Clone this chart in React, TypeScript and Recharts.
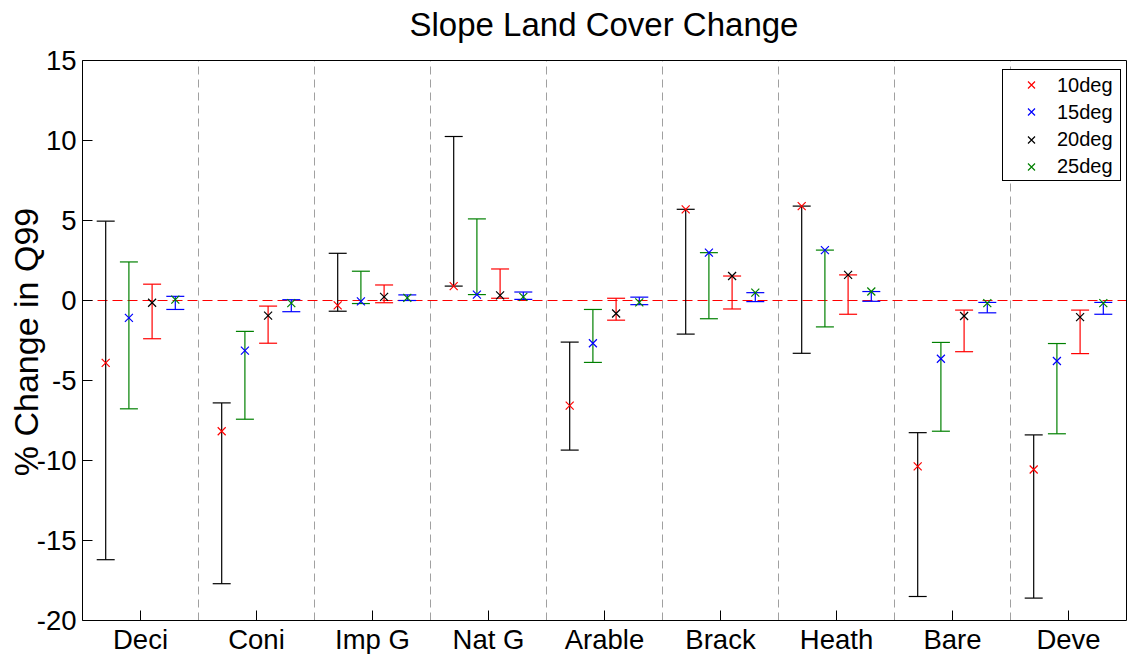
import {
  ComposedChart,
  ErrorBar,
  ReferenceLine,
  Scatter,
  XAxis,
  YAxis,
} from "recharts";

const categories = ["Deci", "Coni", "Imp G", "Nat G", "Arable", "Brack", "Heath", "Bare", "Deve"];
const yTicks = [-20, -15, -10, -5, 0, 5, 10, 15];

// point estimates per slope threshold
const deg10 = [-3.9, -8.17, -0.3, 0.9, -6.57, 5.7, 5.9, -10.37, -10.56];
const deg15 = [-1.09, -3.13, -0.05, 0.37, -2.67, 2.99, 3.15, -3.64, -3.78];
const deg20 = [-0.14, -0.95, 0.23, 0.32, -0.81, 1.53, 1.6, -0.97, -1.04];
const deg25 = [0.05, -0.16, 0.16, 0.23, -0.12, 0.49, 0.56, -0.16, -0.16];

// error bar ends (low / high)
const deg10Low = [-16.2, -17.7, -0.67, 0.9, -9.35, -2.1, -3.3, -18.5, -18.6];
const deg10High = [4.96, -6.4, 2.95, 10.25, -2.6, 5.7, 5.9, -8.26, -8.4];
const deg15Low = [-6.77, -7.42, -0.19, 0.37, -3.87, -1.14, -1.65, -8.17, -8.33];
const deg15High = [2.41, -1.93, 1.83, 5.1, -0.56, 2.99, 3.15, -2.62, -2.69];
const deg20Low = [-2.39, -2.67, -0.14, 0.14, -1.23, -0.53, -0.86, -3.2, -3.32];
const deg20High = [1.02, -0.35, 0.97, 1.97, 0.14, 1.53, 1.6, -0.6, -0.6];
const deg25Low = [-0.56, -0.7, 0, 0.07, -0.26, -0.07, -0.05, -0.77, -0.86];
const deg25High = [0.26, 0.05, 0.35, 0.53, 0.21, 0.49, 0.56, -0.12, -0.12];

const FONT = "'Liberation Sans', Arial, Helvetica, sans-serif";

const series = [
  { name: "10deg", vals: deg10, low: deg10Low, high: deg10High, color: "#ff0000", barColor: "#000000", offset: -0.3 },
  { name: "15deg", vals: deg15, low: deg15Low, high: deg15High, color: "#0000ff", barColor: "#008000", offset: -0.1 },
  { name: "20deg", vals: deg20, low: deg20Low, high: deg20High, color: "#000000", barColor: "#ff0000", offset: 0.1 },
  { name: "25deg", vals: deg25, low: deg25Low, high: deg25High, color: "#008000", barColor: "#0000ff", offset: 0.3 },
];

const buildRows = (s: (typeof series)[number]) =>
  categories.map((_, i) => ({
    x: i + 1 + s.offset,
    y: s.vals[i],
    err: [s.vals[i] - s.low[i], s.high[i] - s.vals[i]],
  }));

const separators = categories.slice(1).map((_, i) => i + 1.5);
const catTicks = categories.map((_, i) => i + 1);

function Cross({ cx, cy, color, r = 4 }: { cx: number; cy: number; color: string; r?: number }) {
  return (
    <path
      d={`M${cx - r},${cy - r}L${cx + r},${cy + r}M${cx - r},${cy + r}L${cx + r},${cy - r}`}
      stroke={color}
      strokeWidth={1.2}
      fill="none"
    />
  );
}

export default function App() {
  const tickStyle = { fontSize: 27.5, fill: "#000", fontFamily: FONT };
  return (
    <div style={{ position: "absolute", left: 0, top: 0, width: 1127, height: 654, background: "#fff", fontFamily: FONT }}>
      <div
        style={{
          position: "absolute",
          top: 8,
          left: 0,
          width: 1208,
          textAlign: "center",
          fontSize: 33,
          lineHeight: 1,
          color: "#000",
        }}
      >
        Slope Land Cover Change
      </div>
      <div
        style={{
          position: "absolute",
          left: 26,
          top: 342,
          transform: "translate(-50%, -50%) rotate(-90deg)",
          whiteSpace: "nowrap",
          fontSize: 34,
          lineHeight: 1,
          color: "#000",
        }}
      >
        % Change in Q99
      </div>
      <ComposedChart width={1127} height={654} margin={{ top: 59.5, right: -0.5, bottom: 0, left: 22.5 }}>
        <XAxis
          dataKey="x"
          type="number"
          domain={[0.5, 9.5]}
          ticks={catTicks}
          interval={0}
          allowDataOverflow
          tickFormatter={(v) => categories[Math.round(v) - 1] ?? ""}
          height={33.5}
          tickSize={-10}
          tickMargin={18.5}
          stroke="#000"
          tick={tickStyle}
        />
        <XAxis
          xAxisId="top"
          orientation="top"
          type="number"
          domain={[0.5, 9.5]}
          ticks={catTicks}
          allowDataOverflow
          height={1}
          tickSize={-10}
          tick={false}
          stroke="#000"
        />
        <YAxis
          dataKey="y"
          type="number"
          domain={[-20, 15]}
          ticks={yTicks}
          interval={0}
          allowDataOverflow
          width={60}
          tickSize={-10}
          tickMargin={16}
          stroke="#000"
          tick={tickStyle}
        />
        <YAxis
          yAxisId="right"
          orientation="right"
          type="number"
          domain={[-20, 15]}
          ticks={yTicks}
          allowDataOverflow
          width={1}
          tickSize={-10}
          tick={false}
          stroke="#000"
        />
        {separators.map((v) => (
          <ReferenceLine key={v} x={v} stroke="#a0a0a0" strokeDasharray="8 5" />
        ))}
        <ReferenceLine y={0} stroke="#ff0000" strokeDasharray="10 5" />
        {series.map((s) => (
          <Scatter
            key={s.name}
            name={s.name}
            data={buildRows(s)}
            fill={s.color}
            isAnimationActive={false}
            shape={(p: any) => <Cross cx={p.cx} cy={p.cy} color={s.color} />}
          >
            <ErrorBar dataKey="err" direction="y" width={9} stroke={s.barColor} strokeWidth={1.2} isAnimationActive={false} />
          </Scatter>
        ))}
      </ComposedChart>
      <div
        style={{
          position: "absolute",
          left: 1002,
          top: 69,
          width: 117,
          height: 110,
          border: "1px solid #000",
          background: "#fff",
        }}
      >
        {series.map((s, i) => (
          <div
            key={s.name}
            style={{ position: "absolute", left: 0, top: 2 + i * 27.3, height: 26, width: 117, display: "flex", alignItems: "center" }}
          >
            <svg width={50} height={26} style={{ flex: "none" }}>
              <Cross cx={28.5} cy={13} color={s.color} r={3.5} />
            </svg>
            <span style={{ fontSize: 20, color: "#000", marginLeft: 4 }}>{s.name}</span>
          </div>
        ))}
      </div>
    </div>
  );
}
